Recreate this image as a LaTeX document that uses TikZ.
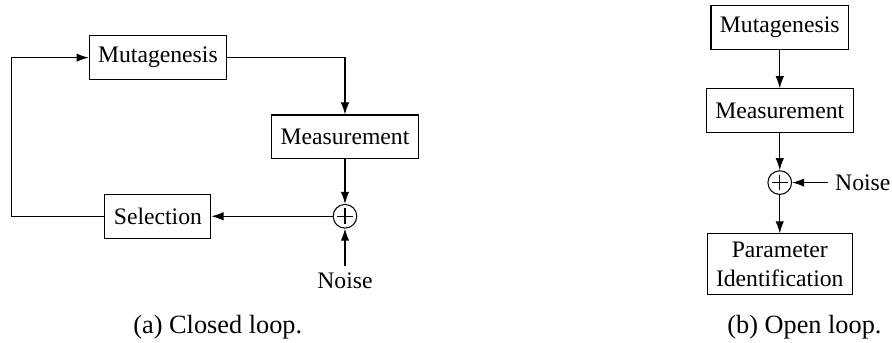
\documentclass[tikz,border=0pt]{standalone}
\usepackage{fontspec}
\setmainfont{Liberation Serif}
\usetikzlibrary{positioning, arrows.meta}

\tikzset{
    block/.style={rectangle, draw=black, font=\small, inner xsep=3.4pt, inner ysep=3pt, minimum height=16.7pt, align=center},
    sumnode/.style={circle, draw=black, inner sep=0pt, minimum size=9pt,
        path picture={\draw ([xshift=-3pt]path picture bounding box.center) -- ([xshift=3pt]path picture bounding box.center)
                            ([yshift=-3pt]path picture bounding box.center) -- ([yshift=3pt]path picture bounding box.center);}},
    link/.style={-{Latex[length=4.6pt, width=3.2pt]}},
    lbl/.style={font=\small, inner sep=2.5pt},
}

\begin{document}
\begin{tikzpicture}
            \useasboundingbox (0, 0) rectangle (11.92, -4.58);

            % (a) closed loop
            \node[block] (mut) at (2.11, -0.77) {Mutagenesis};
            \node[block] (meas) at (4.61, -1.83) {Measurement};
            \node[sumnode] (sum) at (4.61, -2.89) {};
            \node[block] (sel) at (2.11, -2.89) {Selection};
            \node[lbl] (noise) at (4.61, -3.75) {Noise};
            \coordinate (back) at (0.16, -2.89);
            \node (capa) at (2.91, -4.37) {(a) Closed loop.};

            \draw[link] (mut) -| (meas);
            \draw[link] (meas) -- (sum);
            \draw[link] (noise) -- (sum);
            \draw[link] (sum) -- (sel);
            \draw[link] (sel) -- (back) |- (mut);

            % (b) open loop
            \node[block] (mut2) at (10.42, -0.37) {Mutagenesis};
            \node[block] (meas2) at (10.42, -1.48) {Measurement};
            \node[sumnode] (sum2) at (10.42, -2.44) {};
            \node[lbl] (noise2) at (11.53, -2.44) {Noise};
            \node[block] (par) at (10.42, -3.53) {Parameter\\Identification};
            \node (capb) at (10.75, -4.37) {(b) Open loop.};

            \draw[link] (mut2) -- (meas2);
            \draw[link] (meas2) -- (sum2);
            \draw[link] (noise2) -- (sum2);
            \draw[link] (sum2) -- (par);
        \end{tikzpicture}
\end{document}
